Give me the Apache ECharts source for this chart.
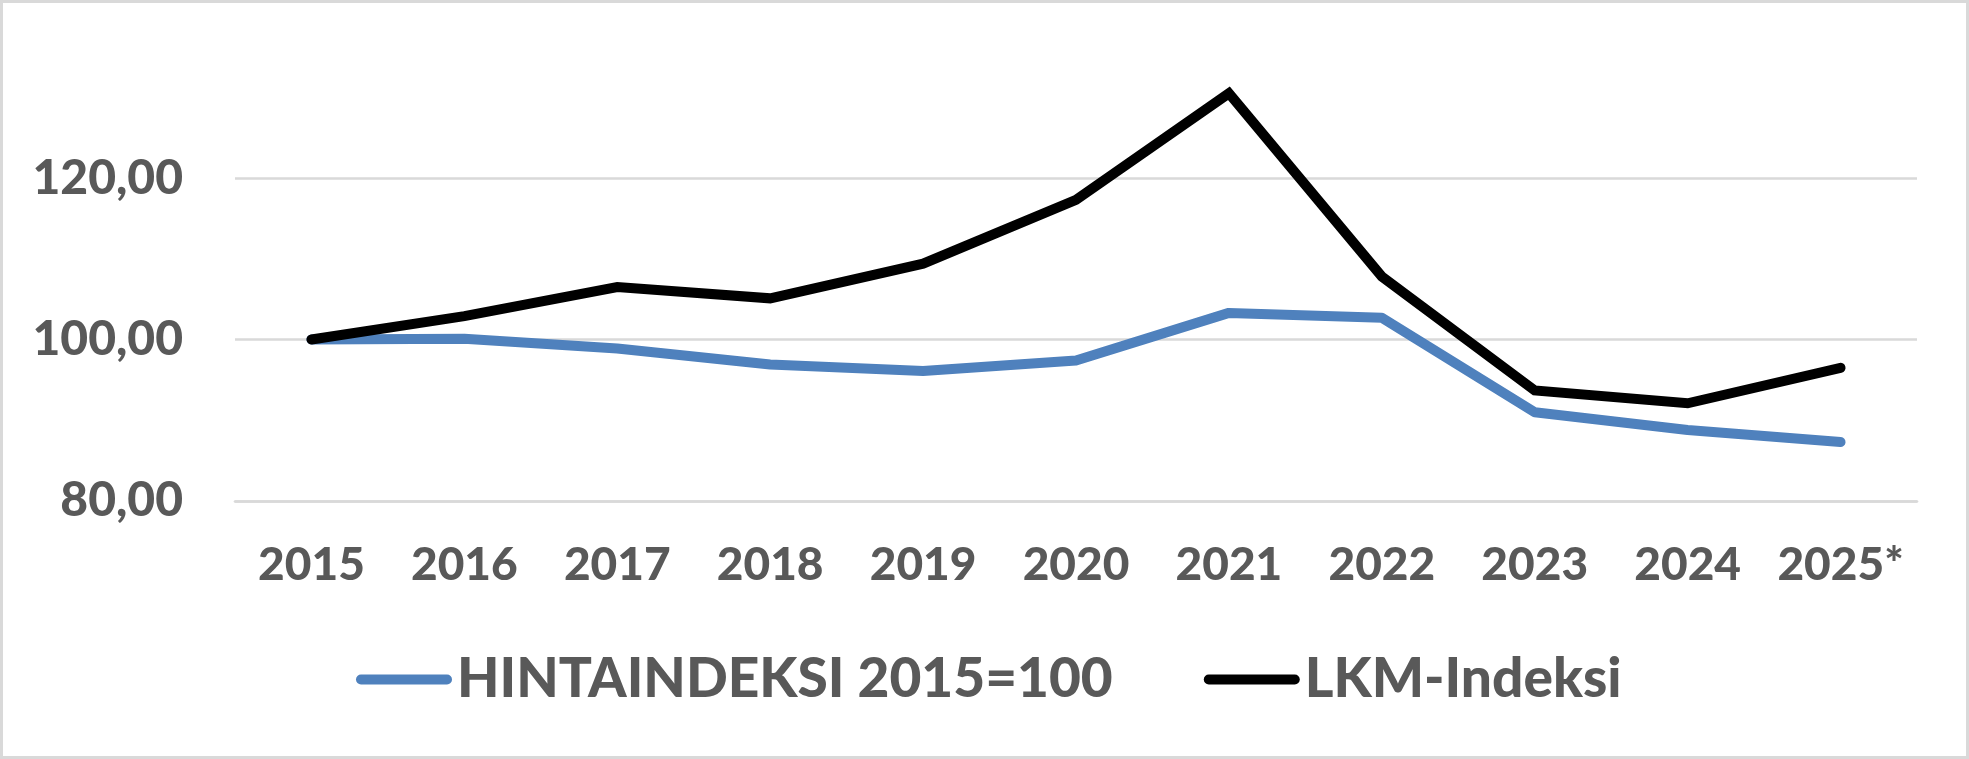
<!DOCTYPE html>
<html>
<head>
<meta charset="utf-8">
<script src="https://cdn.jsdelivr.net/npm/echarts@6/dist/echarts.min.js"></script>
<style>
  html, body { margin: 0; padding: 0; background: #fff; }
  #wrap { position: relative; width: 1969px; height: 759px; }
  #chart { position: absolute; left: 0; top: 0; width: 1969px; height: 759px; }
  #frame { position: absolute; left: 0; top: 0; width: 1969px; height: 759px; box-sizing: border-box; border: 3px solid #d9d9d9; pointer-events: none; }
</style>
</head>
<body>
<div id="wrap"><div id="chart"></div><div id="frame"></div></div>
<script>
const categories = ['2015', '2016', '2017', '2018', '2019', '2020', '2021', '2022', '2023', '2024', '2025*'];
const hintaindeksi = [100.0, 100.1, 98.9, 96.9, 96.1, 97.4, 103.3, 102.7, 91.0, 88.8, 87.3];
const lkmIndeksi = [100.0, 102.9, 106.5, 105.1, 109.4, 117.3, 130.5, 107.8, 93.7, 92.1, 96.5];
const seriesNames = ['HINTAINDEKSI 2015=100', 'LKM-Indeksi'];

const FONT = 'Lato';
const TXT = '#595959';
const legendIcon = 'path://M5 0H91A5 5 0 0 1 91 10H5A5 5 0 0 1 5 0Z';

const chart = echarts.init(document.getElementById('chart'), null, { renderer: 'canvas' });
chart.setOption({
  animation: false,
  backgroundColor: '#ffffff',
  grid: { left: 235, right: 52, top: 16.6, bottom: 258, containLabel: false },
  legend: {
    left: 351,
    top: 647,
    itemWidth: 96,
    itemHeight: 10,
    itemGap: 91,
    textStyle: { fontFamily: FONT, fontWeight: 900, fontSize: 55, color: TXT, padding: [0, 0, 0, 0] },
    data: [
      { name: seriesNames[0], icon: legendIcon },
      { name: seriesNames[1], icon: legendIcon }
    ]
  },
  xAxis: {
    type: 'category',
    data: categories,
    boundaryGap: true,
    axisLine: { show: true, lineStyle: { color: '#d9d9d9', width: 2.7 } },
    axisTick: { show: false },
    axisLabel: { interval: 0, fontFamily: FONT, fontWeight: 900, fontSize: 46, color: TXT, margin: 41 }
  },
  yAxis: {
    type: 'value',
    min: 80,
    max: 140,
    interval: 20,
    axisLine: { show: false },
    axisTick: { show: false },
    splitLine: { show: true, showMaxLine: false, lineStyle: { color: '#d9d9d9', width: 2.7 } },
    axisLabel: {
      fontFamily: FONT, fontWeight: 900, fontSize: 48, color: TXT, margin: 52,
      showMaxLabel: false,
      formatter: v => v.toFixed(2).replace('.', ',')
    }
  },
  series: [
    {
      name: seriesNames[0], type: 'line', data: hintaindeksi,
      symbol: 'none', color: '#4f81bd',
      lineStyle: { color: '#4f81bd', width: 10, cap: 'round', join: 'round' }
    },
    {
      name: seriesNames[1], type: 'line', data: lkmIndeksi,
      symbol: 'none', color: '#000000',
      lineStyle: { color: '#000000', width: 10, cap: 'round', join: 'miter' }
    }
  ]
});
</script>
</body>
</html>
